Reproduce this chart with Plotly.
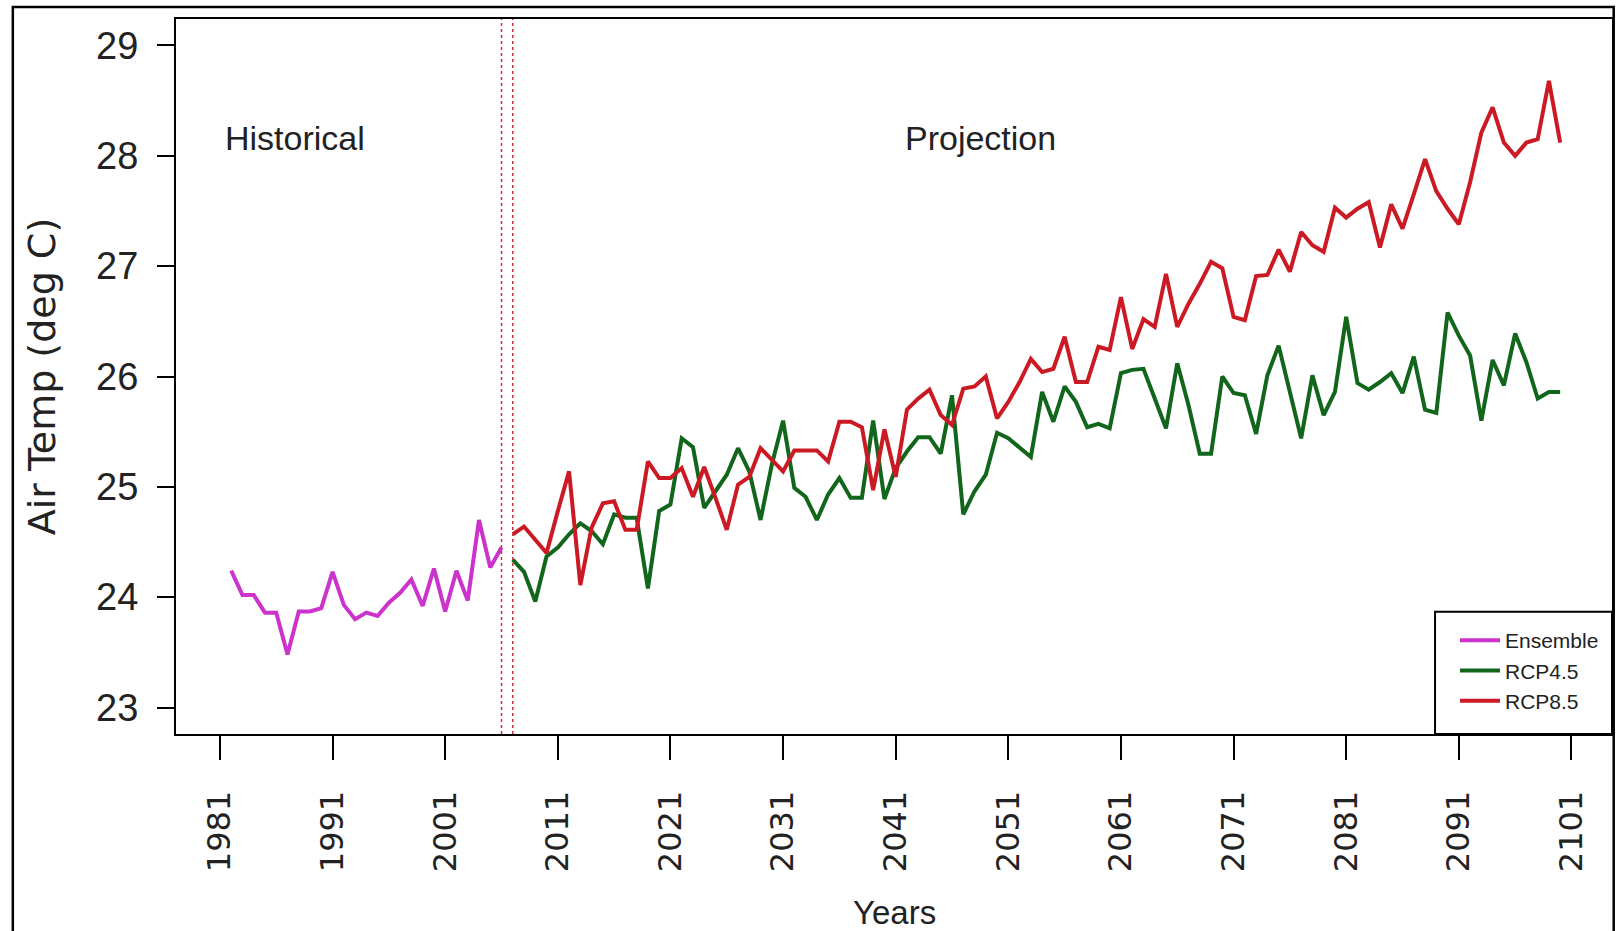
import plotly.graph_objects as go

# ---------------- data ----------------
hist_years = list(range(1982, 2007))
ensemble = [24.24, 24.02, 24.02, 23.86, 23.86, 23.48, 23.87, 23.87, 23.90, 24.23,
            23.93, 23.80, 23.86, 23.83, 23.95, 24.04, 24.16, 23.92, 24.26, 23.87,
            24.24, 23.97, 24.70, 24.27, 24.45]

proj_years = list(range(2007, 2101))
rcp45 = [24.34, 24.23, 23.96, 24.37, 24.45, 24.57, 24.67, 24.60, 24.48, 24.75,
         24.72, 24.72, 24.08, 24.78, 24.84, 25.44, 25.36, 24.81, 24.96, 25.11,
         25.35, 25.14, 24.70, 25.20, 25.60, 24.99, 24.91, 24.70, 24.93, 25.08,
         24.90, 24.90, 25.60, 24.89, 25.17, 25.32, 25.45, 25.45, 25.30, 25.83,
         24.75, 24.96, 25.11, 25.49, 25.44, 25.35, 25.27, 25.86, 25.59, 25.91,
         25.77, 25.54, 25.57, 25.53, 26.03, 26.06, 26.07, 25.80, 25.53, 26.12,
         25.74, 25.30, 25.30, 26.00, 25.85, 25.83, 25.48, 26.01, 26.28, 25.86,
         25.44, 26.01, 25.65, 25.86, 26.54, 25.94, 25.88, 25.95, 26.03, 25.85,
         26.18, 25.70, 25.67, 26.58, 26.37, 26.19, 25.60, 26.15, 25.92, 26.39,
         26.13, 25.80, 25.86, 25.86]
rcp85 = [24.57, 24.64, 24.52, 24.40, 24.78, 25.14, 24.11, 24.63, 24.85, 24.87,
         24.61, 24.61, 25.23, 25.08, 25.08, 25.17, 24.91, 25.18, 24.90, 24.61,
         25.02, 25.09, 25.35, 25.24, 25.14, 25.33, 25.33, 25.33, 25.23, 25.59,
         25.59, 25.54, 24.97, 25.52, 25.09, 25.70, 25.80, 25.88, 25.65, 25.56,
         25.89, 25.91, 26.00, 25.62, 25.77, 25.95, 26.16, 26.04, 26.07, 26.36,
         25.95, 25.95, 26.27, 26.24, 26.72, 26.25, 26.52, 26.45, 26.93, 26.45,
         26.66, 26.84, 27.04, 26.98, 26.54, 26.51, 26.91, 26.92, 27.15, 26.95,
         27.31, 27.19, 27.13, 27.53, 27.44, 27.52, 27.58, 27.17, 27.56, 27.34,
         27.65, 27.97, 27.68, 27.52, 27.38, 27.76, 28.21, 28.44, 28.12, 28.00,
         28.12, 28.15, 28.68, 28.12]

x_tick_vals = list(range(1981, 2102, 10))
x_tick_labels = [str(v) for v in x_tick_vals]
y_tick_vals = [23, 24, 25, 26, 27, 28, 29]
y_tick_labels = [str(v) for v in y_tick_vals]
period_bounds = [2006, 2007]
section_labels = ["Historical", "Projection"]
section_x = [1987.7, 2048.5]
section_y = [28.16, 28.16]

# ---------------- styles ----------------
C_ENS = "#cc33cc"
C_45 = "#11661c"
C_85 = "#cc1a24"
SANS = "Liberation Sans, Arial, sans-serif"
WIDE = "DejaVu Sans, Verdana, sans-serif"
TXT = "#222222"

# page geometry (pixels); body margin is removed so figure px == page px
W, H = 1617, 931
L, R, T, B = 175.5, 1614.3, 19, 734
pw, ph = R - L, B - T


def px_x(p):
    return (p - L) / pw


def px_y(p):
    return (B - p) / ph


fig = go.Figure()
fig.add_trace(go.Scatter(x=hist_years, y=ensemble, mode="lines", name="Ensemble",
                         line=dict(color=C_ENS, width=4)))
fig.add_trace(go.Scatter(x=proj_years, y=rcp45, mode="lines", name="RCP4.5",
                         line=dict(color=C_45, width=4)))
fig.add_trace(go.Scatter(x=proj_years, y=rcp85, mode="lines", name="RCP8.5",
                         line=dict(color=C_85, width=4)))

for xb in period_bounds:
    fig.add_shape(type="line", xref="x", yref="paper", x0=xb, x1=xb, y0=0, y1=1,
                  line=dict(color="#c8323c", width=1.5, dash="3px,3px"))

for txt, xs, ys in zip(section_labels, section_x, section_y):
    fig.add_annotation(x=xs, y=ys, xref="x", yref="y", text=txt, showarrow=False,
                       xanchor="center", yanchor="middle",
                       font=dict(family=SANS, size=34, color=TXT))

# outer frame
fig.add_shape(type="rect", xref="paper", yref="paper",
              x0=px_x(12), x1=px_x(1616), y0=px_y(960), y1=px_y(7),
              line=dict(color="black", width=2.5), fillcolor="rgba(0,0,0,0)", layer="above")

# legend box (the legend entries themselves are the native legend)
fig.add_shape(type="rect", xref="paper", yref="paper",
              x0=px_x(1437), x1=1, y0=0, y1=px_y(611.7),
              line=dict(color="black", width=2), fillcolor="white", layer="above")

# axis titles
fig.add_annotation(x=px_x(41), y=0.5, xref="paper", yref="paper",
                   text="Air Temp (deg C)", textangle=-90, showarrow=False,
                   xanchor="center", yanchor="middle",
                   font=dict(family=WIDE, size=38, color=TXT))
fig.add_annotation(x=0.5, y=px_y(912), xref="paper", yref="paper",
                   text="Years", showarrow=False, xanchor="center", yanchor="middle",
                   font=dict(family=SANS, size=33, color=TXT))

fig.update_layout(
    width=W, height=H,
    margin=dict(l=L, r=W - R, t=T, b=H - B, pad=0),
    paper_bgcolor="white", plot_bgcolor="white",
    showlegend=True,
    legend=dict(x=px_x(1457), xanchor="left", y=px_y(620), yanchor="top",
                bgcolor="rgba(0,0,0,0)", borderwidth=0,
                font=dict(family=SANS, size=21, color=TXT),
                itemwidth=40, tracegroupgap=0),
)
fig.update_xaxes(range=[1977.1, 2104.6], tickmode="array", tickvals=x_tick_vals,
                 ticktext=x_tick_labels, tickangle=-90, ticks="outside", ticklen=24,
                 tickwidth=2, tickcolor="black", showline=True, linecolor="black",
                 linewidth=2, mirror=True, showgrid=False, zeroline=False,
                 ticklabelstandoff=18,
                 tickfont=dict(family=WIDE, size=32, color=TXT))
fig.update_yaxes(range=[22.76, 29.24], tickmode="array", tickvals=y_tick_vals,
                 ticktext=y_tick_labels, ticks="outside", ticklen=17,
                 tickwidth=2, tickcolor="black", showline=True, linecolor="black",
                 linewidth=2, mirror=True, showgrid=False, zeroline=False,
                 ticklabelstandoff=11,
                 tickfont=dict(family=SANS, size=38, color=TXT))

fig.write_html(
    "out.html",
    config={"displayModeBar": False},
    post_script="document.body.style.margin='0';document.body.style.overflow='hidden';",
)
